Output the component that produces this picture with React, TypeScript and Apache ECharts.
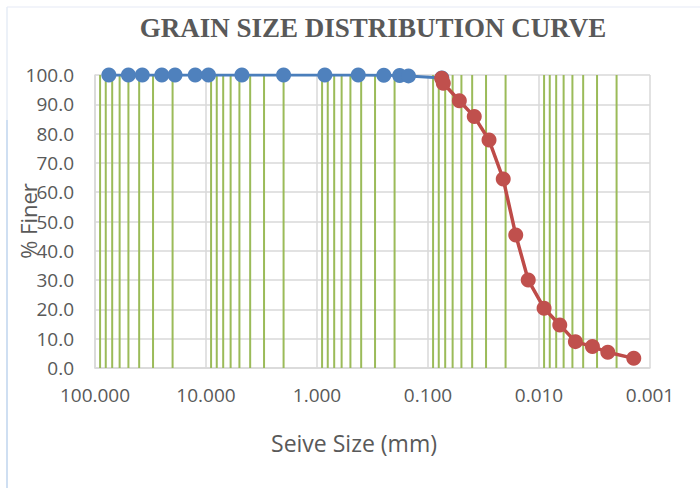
import React, { useEffect, useRef } from "react";
import * as echarts from "echarts";

const TITLE = "GRAIN SIZE DISTRIBUTION CURVE";
const X_NAME = "Seive Size (mm)";
const Y_NAME = "% Finer";

// Sieve analysis (mm, % finer)
const sieveSizes = [75, 50, 37.5, 25, 19, 12.5, 9.5, 4.75, 2.0, 0.85, 0.425, 0.25, 0.18, 0.15, 0.075];
const sieveFiner = [100, 100, 100, 100, 100, 100, 100, 100, 100, 100, 100, 99.9, 99.8, 99.7, 99.0];

// Hydrometer analysis (mm, % finer)
const hydroSizes = [0.0753, 0.0728, 0.0522, 0.0383, 0.0282, 0.021, 0.0162, 0.0125, 0.009, 0.0065, 0.0047, 0.0033, 0.0024, 0.0014];
const hydroFiner = [98.9, 97.2, 91.2, 85.8, 77.8, 64.5, 45.4, 30.0, 20.4, 14.7, 9.0, 7.3, 5.4, 3.3];

// Minor (green) vertical grid line positions
const minorGridSizes = [
  90, 80, 70, 60, 50, 40, 30, 20,
  9, 8, 7, 6, 5, 4, 3, 2,
  0.9, 0.8, 0.7, 0.6, 0.5, 0.4, 0.3, 0.2,
  0.09, 0.08, 0.07, 0.06, 0.05, 0.04, 0.03, 0.02,
  0.009, 0.008, 0.007, 0.006, 0.005, 0.004, 0.003, 0.002,
];

const Y_MIN = 0;
const Y_MAX = 100;

export default function App() {
  const ref = useRef<HTMLDivElement>(null);
  useEffect(() => {
    if (!ref.current) return;
    const chart = echarts.init(ref.current, null, { renderer: "svg" });
    const sans = "'Open Sans', 'Noto Sans', sans-serif";
    chart.setOption({
      animation: false,
      backgroundColor: "#ffffff",
      graphic: [
        {
          type: "line",
          shape: { x1: 7, y1: 7, x2: 700, y2: 7 },
          style: { stroke: "#eef1f8", lineWidth: 1.5 },
        },
        {
          type: "line",
          shape: { x1: 7, y1: 7, x2: 7, y2: 488 },
          style: { stroke: "#e6ecf6", lineWidth: 1.5 },
        },
        {
          type: "line",
          shape: { x1: 7, y1: 120, x2: 7, y2: 488 },
          style: { stroke: "#c6d9f0", lineWidth: 1.5 },
        },
        {
          type: "text",
          x: 373,
          y: 28,
          style: {
            text: TITLE,
            font: "bold 27px 'Liberation Serif', 'Times New Roman', serif",
            fill: "#595959",
            textAlign: "center",
            textVerticalAlign: "middle",
          },
        },
        {
          type: "text",
          x: 354,
          y: 443,
          style: {
            text: X_NAME,
            font: "23px " + sans,
            fill: "#595959",
            textAlign: "center",
            textVerticalAlign: "middle",
          },
        },
        {
          type: "text",
          x: 28,
          y: 221,
          rotation: Math.PI / 2,
          z: 10,
          style: {
            text: Y_NAME,
            font: "22px " + sans,
            fill: "#595959",
            textAlign: "center",
            textVerticalAlign: "middle",
          },
        },
      ],
      grid: {
        left: 95,
        right: 50,
        top: 75,
        bottom: 120,
        containLabel: false,
        outerBoundsMode: "none",
      },
      xAxis: {
        type: "log",
        logBase: 10,
        min: 0.001,
        max: 100,
        inverse: true,
        axisLine: { show: true, lineStyle: { color: "#d9d9d9", width: 1.5 } },
        axisTick: { show: false },
        axisLabel: {
          fontFamily: sans,
          fontSize: 19,
          color: "#595959",
          margin: 17,
          formatter: (v: number) => v.toFixed(3),
        },
        splitLine: { show: true, lineStyle: { color: "#d9d9d9", width: 1.5 } },
        minorTick: { show: false },
        minorSplitLine: { show: false },
      },
      yAxis: {
        type: "value",
        min: Y_MIN,
        max: Y_MAX,
        interval: 10,
        axisLine: { show: true, lineStyle: { color: "#d9d9d9", width: 1.5 } },
        axisTick: { show: false },
        axisLabel: {
          fontFamily: sans,
          fontSize: 19,
          color: "#595959",
          margin: 21,
          formatter: (v: number) => v.toFixed(1),
        },
        splitLine: { show: true, lineStyle: { color: "#d9d9d9", width: 1.5 } },
      },
      series: [
        {
          type: "custom",
          name: "minor grid",
          z: 1,
          silent: true,
          data: minorGridSizes.map((v) => [v]),
          encode: { x: 0 },
          renderItem: (params: any, api: any) => {
            const v = api.value(0);
            const p1 = api.coord([v, Y_MIN]);
            const p2 = api.coord([v, Y_MAX]);
            return {
              type: "line",
              shape: { x1: p1[0], y1: p1[1], x2: p2[0], y2: p2[1] },
              style: { stroke: "#9bbb59", lineWidth: 2 },
            };
          },
        },
        {
          type: "line",
          name: "Sieve",
          z: 3,
          data: sieveSizes.map((s, i) => [s, sieveFiner[i]]),
          symbol: "circle",
          symbolSize: 15,
          showAllSymbol: true,
          lineStyle: { color: "#4a7ebb", width: 3 },
          itemStyle: { color: "#4f81bd" },
        },
        {
          type: "line",
          name: "Hydrometer",
          z: 4,
          data: hydroSizes.map((s, i) => [s, hydroFiner[i]]),
          symbol: "circle",
          symbolSize: 15,
          showAllSymbol: true,
          lineStyle: { color: "#be4b48", width: 3.5 },
          itemStyle: { color: "#c0504d" },
        },
      ],
    });
    return () => chart.dispose();
  }, []);
  return (
    <div
      ref={ref}
      style={{ position: "fixed", left: 0, top: 0, width: 700, height: 488 }}
    />
  );
}
